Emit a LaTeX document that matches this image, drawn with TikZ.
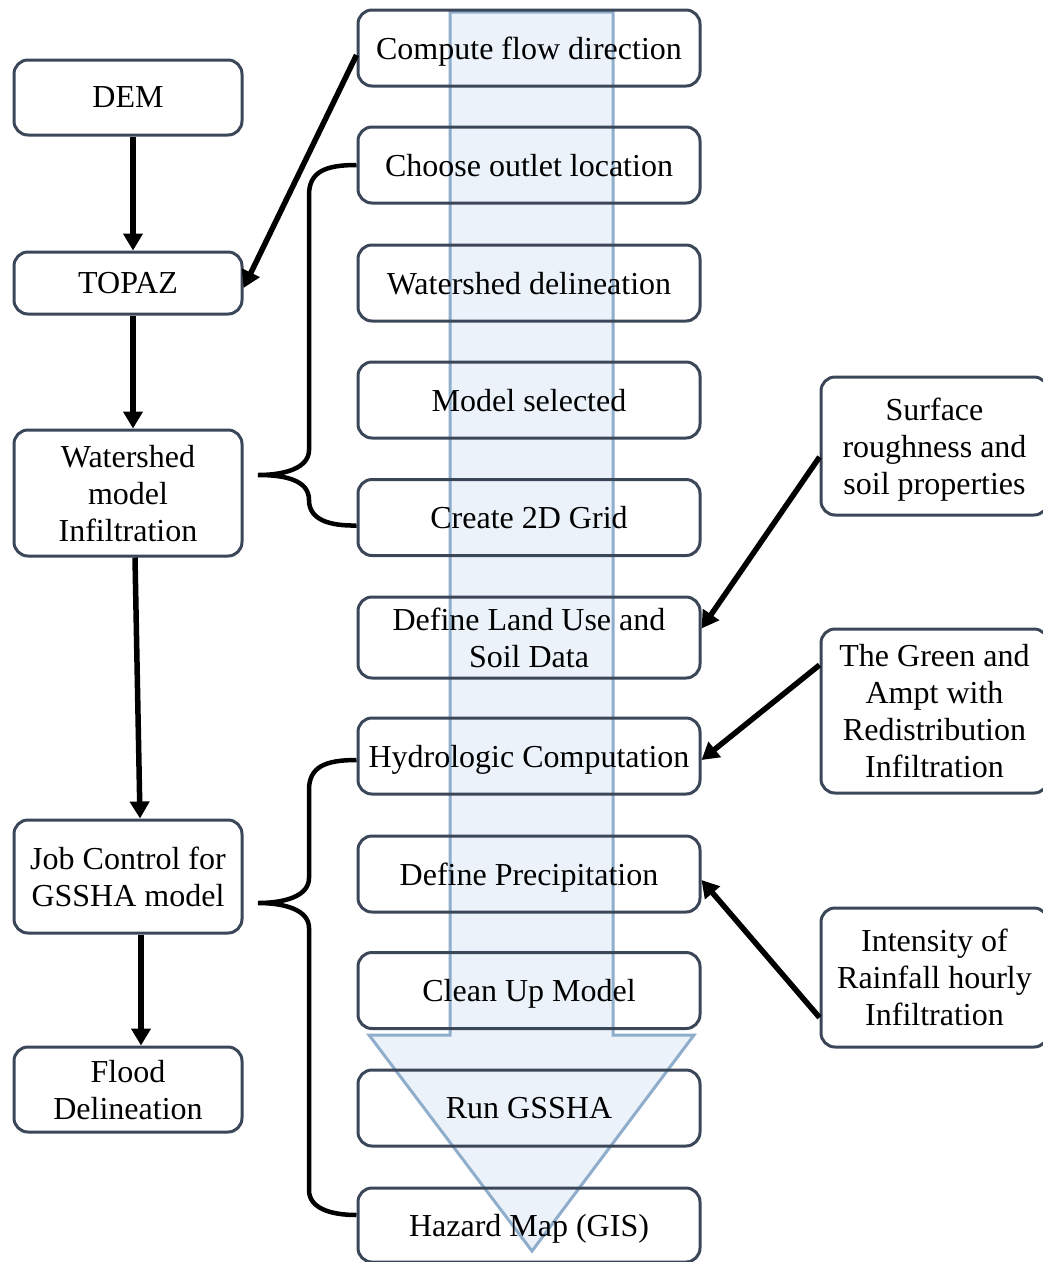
\documentclass[tikz,border=0pt]{standalone}
\usepackage{fontspec}
\setmainfont{Liberation Serif}
\usetikzlibrary{arrows.meta}
\definecolor{boxline}{RGB}{59,70,88}
\definecolor{arrfill}{RGB}{235,242,250}
\definecolor{arrline}{RGB}{142,174,204}
\tikzset{
  box/.style={draw=boxline, line width=3pt, rounded corners=14pt, inner sep=0pt,
    align=center, text depth=0pt, font=\fontsize{32}{37}\selectfont},
  lbox/.style={box, minimum width=228pt},
  mbox/.style={box, minimum width=342pt, minimum height=76pt},
  rbox/.style={box, minimum width=227pt},
  conn/.style={line width=5.5pt, -{Triangle[length=17pt,width=19pt]}},
  brace/.style={line width=4.5pt},
}
\begin{document}
\begin{tikzpicture}[x=1pt,y=-1pt]
\useasboundingbox (0,0) rectangle (1043,1262);
% big background arrow
\draw[fill=arrfill, draw=arrline, line width=3pt, line join=miter]
  (450,12) -- (613,12) -- (613,1035) -- (694,1035) -- (532,1251) -- (369,1035) -- (450,1035) -- cycle;
% left column
\node[lbox, minimum height=75pt] (dem) at (128,97.5) {DEM};
\node[lbox, minimum height=62pt] (topaz) at (128,283) {TOPAZ};
\node[lbox, minimum height=126pt] (wm) at (128,493) {Watershed\\model\\Infiltration};
\node[lbox, minimum height=113pt] (job) at (128,876.5) {Job Control for\\GSSHA model};
\node[lbox, minimum height=85pt] (flood) at (128,1089.5) {Flood\\Delineation};
% middle column
\node[mbox] (cfd) at (529,48) {Compute flow direction};
\node[mbox] (cho) at (529,165) {Choose outlet location};
\node[mbox] (wsd) at (529,283) {Watershed delineation};
\node[mbox] (msel) at (529,400) {Model selected};
\node[mbox] (grid) at (529,517.5) {Create 2D Grid};
\node[mbox, minimum height=81pt] (land) at (529,637.5) {Define Land Use and\\Soil Data};
\node[mbox] (hyd) at (529,756) {Hydrologic Computation};
\node[mbox] (prec) at (529,874) {Define Precipitation};
\node[mbox] (clean) at (529,990.5) {Clean Up Model};
\node[mbox] (run) at (529,1108) {Run GSSHA};
\node[mbox, minimum height=74pt] (haz) at (529,1225) {Hazard Map (GIS)};
% right column
\node[rbox, minimum height=138pt] (surf) at (934.5,446) {Surface\\roughness and\\soil properties};
\node[rbox, minimum height=164pt] (green) at (934.5,711) {The Green and\\Ampt with\\Redistribution\\Infiltration};
\node[rbox, minimum height=139pt] (inten) at (934.5,977.5) {Intensity of\\Rainfall hourly\\Infiltration};
% connectors
\draw[conn] ([xshift=5pt]dem.south) -- ([xshift=5pt]topaz.north);
\draw[conn] ([xshift=5pt]topaz.south) -- ([xshift=5pt]wm.north);
\draw[conn] ([xshift=7pt]wm.south) -- ([xshift=12pt]job.north);
\draw[conn] ([xshift=13pt]job.south) -- ([xshift=13pt]flood.north);
\draw[conn] ([yshift=-7pt]cfd.west) -- ([yshift=-5pt]topaz.east);
\draw[conn] ([yshift=-11pt]surf.west) -- ([yshift=9pt]land.east);
\draw[conn] ([yshift=46pt]green.west) -- ([yshift=-4pt]hyd.east);
\draw[conn] ([yshift=-40pt]inten.west) -- ([yshift=-6pt]prec.east);
% braces
\coordinate (b1tip) at (258,475);
\coordinate (b2tip) at (258,903);
\draw[brace] (cho.west) .. controls (325,165) and (309,172) .. (309,195)
  -- (309,450) .. controls (309,468) and (285,475) .. (b1tip)
  .. controls (285,475) and (309,480) .. (309,500)
  .. controls (309,520) and (330,526) .. ([yshift=-8pt]grid.west);
\draw[brace] ([yshift=-4pt]hyd.west) .. controls (325,760) and (309,767) .. (309,790)
  -- (309,878) .. controls (309,896) and (285,903) .. (b2tip)
  .. controls (285,903) and (309,910) .. (309,928)
  -- (309,1190) .. controls (309,1208) and (330,1215) .. ([yshift=10pt]haz.west);
\end{tikzpicture}
\end{document}
